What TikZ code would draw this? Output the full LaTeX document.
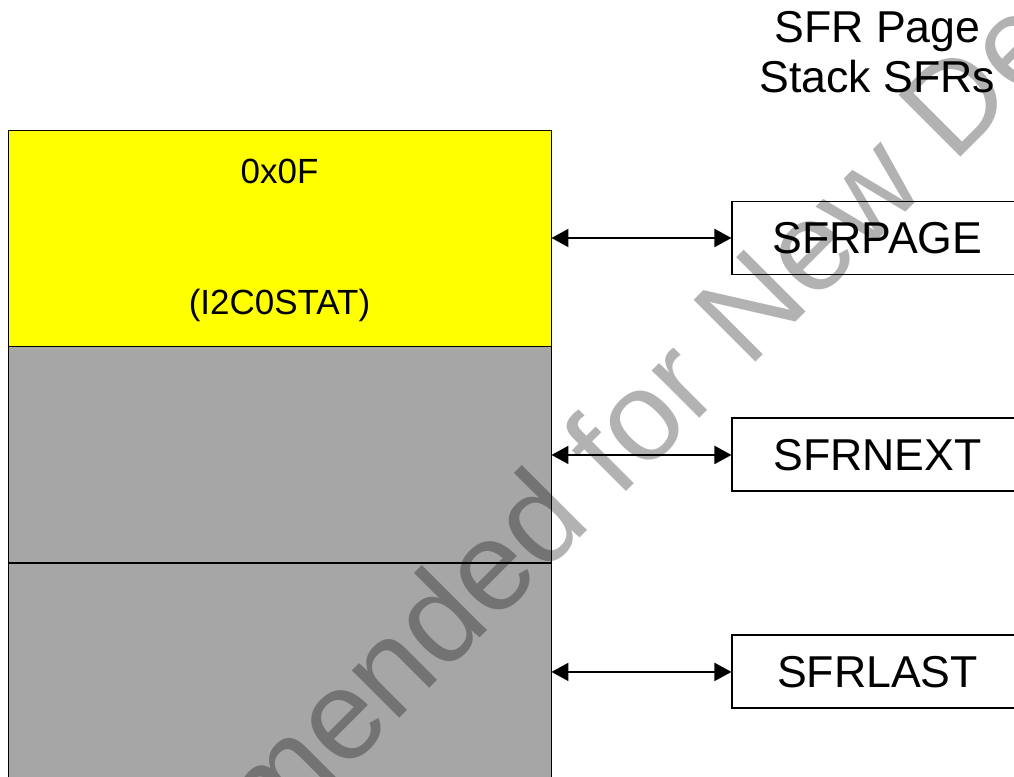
\documentclass[tikz,border=0pt]{standalone}
\usepackage{fontspec}
\setmainfont{Liberation Sans}
\usetikzlibrary{arrows.meta,positioning}
\definecolor{cellgray}{RGB}{166,166,166}
\definecolor{cellyellow}{RGB}{255,255,0}

\begin{document}
\begin{tikzpicture}[
  >={Triangle[length=3.4mm,width=3.6mm]},
  cell/.style={draw=black, fill=cellgray, rectangle,
    minimum width=10.86cm, minimum height=4.32cm,
    inner sep=0pt, line width=0.55pt},
  celltext/.style={inner sep=0pt, font=\fontsize{19.9}{22}\selectfont},
  reg/.style={draw=black, fill=white, rectangle,
    minimum width=5.8cm, minimum height=1.46cm,
    inner sep=0pt, line width=1.1pt, font=\fontsize{25.4}{28.5}\selectfont},
  header/.style={align=center, inner sep=0pt,
    font=\fontsize{25.4}{28.45}\selectfont},
  link/.style={<->, draw=black, line width=1.1pt},
  stamp/.style={rotate=45, anchor=base, text=black, text opacity=0.3,
    font=\fontsize{72.3}{80}\selectfont}
]

\clip (0,0) rectangle (20.28,-15.54);

% SFR page stack
\node[cell, fill=cellyellow] (page) at (5.59,-4.76) {};
\node[cell, below=0pt of page] (next) {};
\node[cell, below=0pt of next] (last) {};
\node[celltext] (addr) at ([yshift=-0.84cm]page.north) {0x0F};
\node[celltext] (name) at ([yshift=0.83cm]page.south) {(I2C0STAT)};

% Stack registers
\node[reg, right=3.6cm of page] (sfrpage) {SFRPAGE};
\node[reg, right=3.6cm of next] (sfrnext) {SFRNEXT};
\node[reg, right=3.6cm of last] (sfrlast) {SFRLAST};
\node[header, above=2.15cm of sfrpage] (title) {SFR Page\\Stack SFRs};

\draw[link] (page.east) -- (sfrpage.west);
\draw[link] (next.east) -- (sfrnext.west);
\draw[link] (last.east) -- (sfrlast.west);

% Watermark
\node[stamp] (mark) at (10.98,-11.38) {Not Recommended for New Designs};

\end{tikzpicture}
\end{document}
